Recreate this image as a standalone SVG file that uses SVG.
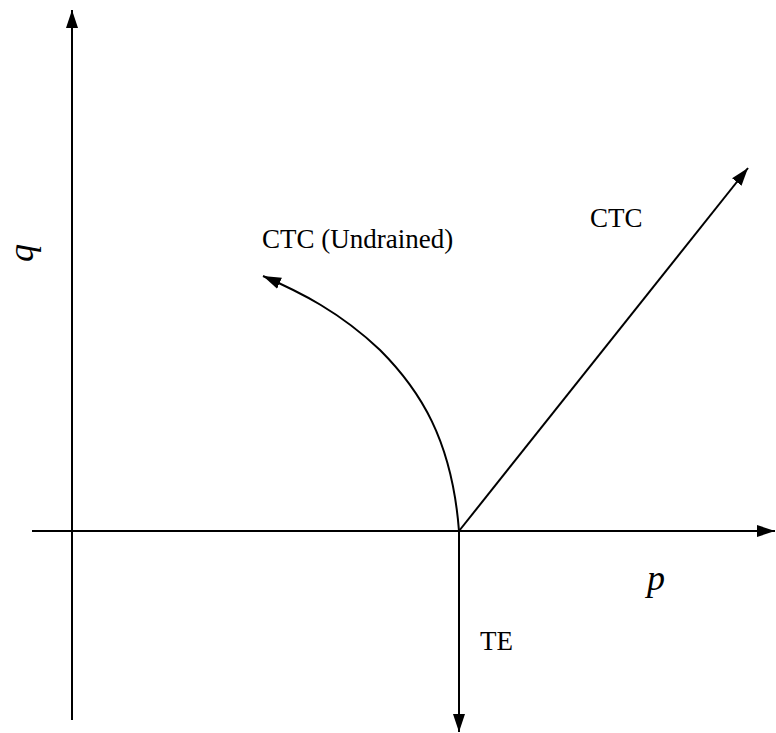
<svg xmlns="http://www.w3.org/2000/svg" width="776" height="733" viewBox="0 0 776 733">
<style>
.ln{fill:none;stroke:#000;stroke-width:2;marker-end:url(#ah)}
.lbl{font-family:"Liberation Serif","Times New Roman",serif;font-size:27px;fill:#000}
.var{font-family:"Liberation Serif","Times New Roman",serif;font-style:italic;font-size:36px;fill:#000}
</style>
<defs>
<marker id="ah" markerUnits="userSpaceOnUse" markerWidth="20" markerHeight="14" refX="18" refY="6" orient="auto" viewBox="0 0 20 12">
<path d="M0,0 L18,6 L0,12 Z" fill="#000"/>
</marker>
</defs>
<rect width="776" height="733" fill="#fff"/>
<g id="connectors">
<path id="q-axis" class="ln" d="M72,720 L72,10"/>
<path id="p-axis" class="ln" d="M32,531 L775,531"/>
<path id="ctc" class="ln" d="M459,531 L748,168"/>
<path id="te" class="ln" d="M459,531 L459,732"/>
<path id="ctc-undrained" class="ln" d="M459,531 C452,440 420,390 380,350 C340,312 300,292 263,276"/>
</g>
<g id="label-q"><text class="var" transform="translate(33,262) rotate(-90)">q</text></g>
<g id="label-p"><text class="var" x="647" y="590">p</text></g>
<g id="label-ctc-undrained"><text class="lbl" x="262" y="248">CTC (Undrained)</text></g>
<g id="label-ctc"><text class="lbl" x="590" y="227">CTC</text></g>
<g id="label-te"><text class="lbl" x="480" y="650">TE</text></g>
</svg>
